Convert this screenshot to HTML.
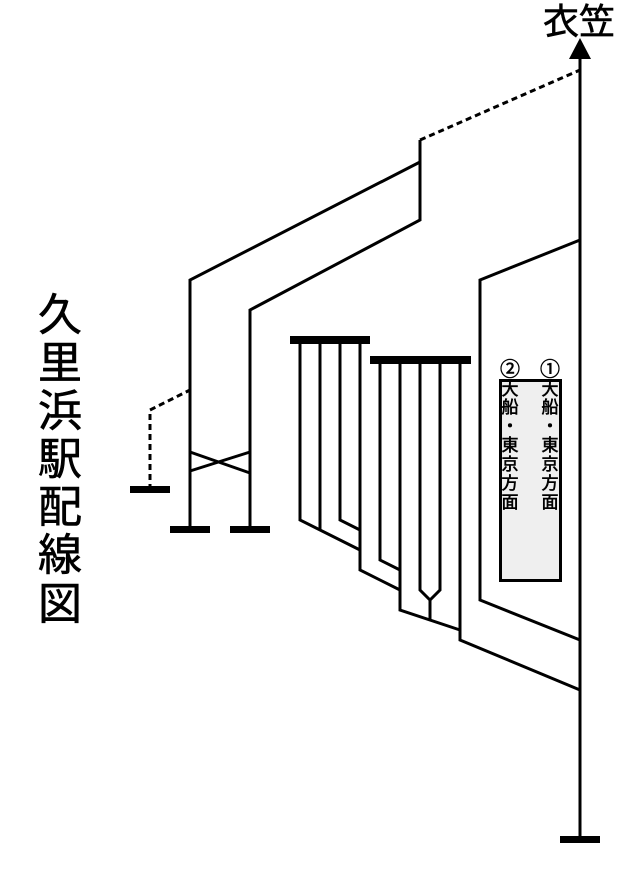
<!DOCTYPE html>
<html><head><meta charset="utf-8"><style>
body{margin:0;background:#fff;width:640px;height:880px;overflow:hidden}
svg{display:block}
text{font-family:"Liberation Sans","Noto Sans CJK JP",sans-serif;fill:#000;stroke:#000;stroke-width:0.6}
</style></head><body>
<svg width="640" height="880" viewBox="0 0 640 880" xmlns="http://www.w3.org/2000/svg">
<g stroke="#000" stroke-width="3" fill="none" stroke-linejoin="miter">
<line x1="580" y1="55" x2="580" y2="840"/>
<polyline points="190,530 190,280 420,162"/>
<polyline points="250,530 250,310 420,220 420,140"/>
<polyline points="420,140 580,70" stroke-dasharray="6,4"/>
<polyline points="150,490 150,410 190,390" stroke-dasharray="6,4"/>
<line x1="190" y1="452" x2="250" y2="473"/>
<line x1="190" y1="471" x2="250" y2="452"/>
<polyline points="300,340 300,520 360,550"/>
<line x1="320" y1="340" x2="320" y2="530"/>
<polyline points="340,340 340,520 360,530"/>
<polyline points="360,340 360,570 400,590"/>
<polyline points="380,360 380,560 400,570"/>
<polyline points="400,360 400,610 460,630"/>
<polyline points="420,360 420,590 430,600 440,590 440,360"/>
<line x1="430" y1="600" x2="430" y2="620"/>
<polyline points="460,360 460,640 580,690"/>
<polyline points="580,240 480,280 480,600 580,640"/>
</g>
<g fill="#000">
<rect x="130" y="486" width="40" height="7"/>
<rect x="170" y="526" width="40" height="7"/>
<rect x="230" y="526" width="40" height="7"/>
<rect x="560" y="836" width="40" height="7"/>
<rect x="290" y="336" width="80" height="8"/>
<rect x="370" y="356" width="101" height="8"/>
<polygon points="580,38 569,59 591,59"/>
</g>
<rect x="500.5" y="380.5" width="60" height="200" fill="#efefef" stroke="#000" stroke-width="3"/>
<text x="510" y="376" font-size="20" text-anchor="middle">②</text>
<text x="550" y="376" font-size="20" text-anchor="middle">①</text>
<g font-size="17" text-anchor="middle">
<text x="510" y="395">大</text><text x="510" y="413">船</text><text x="510" y="432">・</text><text x="510" y="451">東</text><text x="510" y="470">京</text><text x="510" y="489">方</text><text x="510" y="508">面</text>
<text x="550" y="395">大</text><text x="550" y="413">船</text><text x="550" y="432">・</text><text x="550" y="451">東</text><text x="550" y="470">京</text><text x="550" y="489">方</text><text x="550" y="508">面</text>
</g>
<text x="579" y="34" font-size="36" text-anchor="middle">衣笠</text>
<g font-size="44" text-anchor="middle">
<text x="60" y="330">久</text><text x="60" y="378">里</text><text x="60" y="426">浜</text><text x="60" y="474">駅</text><text x="60" y="522">配</text><text x="60" y="570">線</text><text x="60" y="619">図</text>
</g>
</svg>
</body></html>
